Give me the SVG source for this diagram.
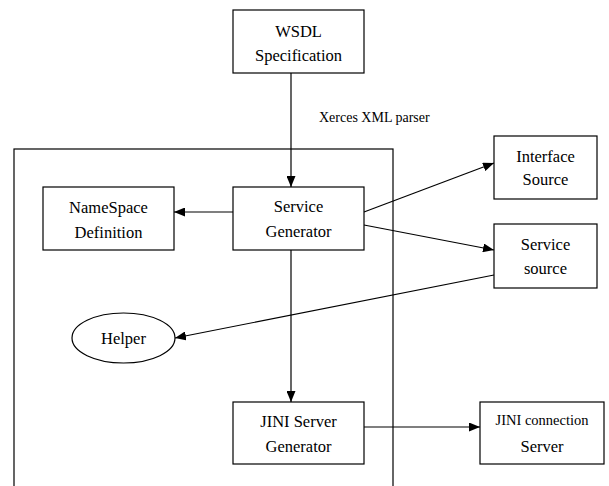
<svg xmlns="http://www.w3.org/2000/svg" width="609" height="486" viewBox="0 0 609 486">
<style>
.box{fill:#fff;stroke:#000;stroke-width:1.2}
.t{font-family:"Liberation Serif","Times New Roman",serif;font-size:16.5px;fill:#000;text-anchor:middle}
.s{font-size:14.5px}
.c{fill:none;stroke:#000;stroke-width:1.2}
</style>
<defs>
<marker id="ah" markerWidth="11" markerHeight="9" refX="11" refY="4.5" orient="auto" markerUnits="userSpaceOnUse">
<path d="M0,0 L11,4.5 L0,9 Z" fill="#000"/>
</marker>
</defs>
<rect id="container" x="14" y="149" width="379" height="345" fill="none" stroke="#000" stroke-width="1.2"/>
<g id="connectors">
<line class="c" x1="291" y1="73" x2="291" y2="187" marker-end="url(#ah)"/>
<line class="c" x1="233" y1="212" x2="174" y2="212" marker-end="url(#ah)"/>
<line class="c" x1="364" y1="212" x2="494" y2="163" marker-end="url(#ah)"/>
<line class="c" x1="364" y1="225" x2="494" y2="250" marker-end="url(#ah)"/>
<line class="c" x1="494" y1="275" x2="175" y2="338" marker-end="url(#ah)"/>
<line class="c" x1="291" y1="250" x2="291" y2="402" marker-end="url(#ah)"/>
<line class="c" x1="364" y1="427" x2="480" y2="427" marker-end="url(#ah)"/>
<text class="t" x="319" y="122" style="font-size:14px;text-anchor:start">Xerces XML parser</text>
</g>
<g id="wsdl">
<rect class="box" x="233" y="10" width="131" height="63"/>
<text class="t" x="298.5" y="37">WSDL</text>
<text class="t" x="298.5" y="61">Specification</text>
</g>
<g id="namespace">
<rect class="box" x="43" y="187" width="131" height="63"/>
<text class="t" x="108.5" y="212.5">NameSpace</text>
<text class="t" x="108.5" y="237.5">Definition</text>
</g>
<g id="servicegen">
<rect class="box" x="233" y="187" width="131" height="63"/>
<text class="t" x="298.5" y="212">Service</text>
<text class="t" x="298.5" y="237">Generator</text>
</g>
<g id="interface">
<rect class="box" x="494" y="136" width="103" height="63"/>
<text class="t" x="545.5" y="162">Interface</text>
<text class="t" x="545.5" y="185">Source</text>
</g>
<g id="servicesrc">
<rect class="box" x="494" y="224" width="103" height="64"/>
<text class="t" x="545.5" y="250">Service</text>
<text class="t" x="545.5" y="274">source</text>
</g>
<g id="helper">
<ellipse class="box" cx="123.5" cy="338" rx="51.5" ry="25"/>
<text class="t" x="123.5" y="344">Helper</text>
</g>
<g id="jinigen">
<rect class="box" x="233" y="402" width="131" height="62"/>
<text class="t" x="298.5" y="427">JINI Server</text>
<text class="t" x="298.5" y="452">Generator</text>
</g>
<g id="jiniconn">
<rect class="box" x="480" y="402" width="124" height="62"/>
<text class="t s" x="542" y="425">JINI connection</text>
<text class="t" x="542" y="452">Server</text>
</g>
</svg>
